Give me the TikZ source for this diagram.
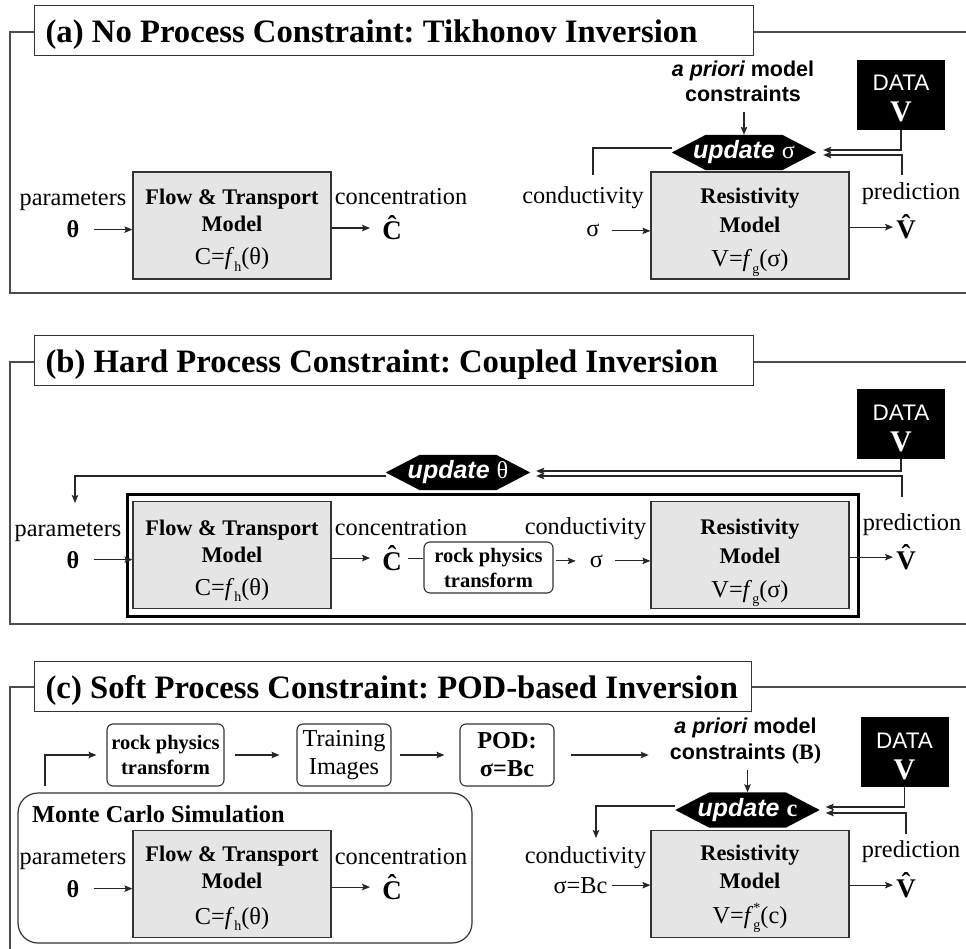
\documentclass[tikz,border=0pt]{standalone}
\usepackage{fontspec}
\setmainfont{Liberation Serif}
\newfontfamily\arialf{Liberation Sans}
\usetikzlibrary{arrows.meta,calc,backgrounds}
\frenchspacing
\newsavebox\hatsave
\newcommand\hatbf[1]{\sbox\hatsave{\bfseries #1}\makebox[0pt][l]{\makebox[\wd\hatsave]{\raisebox{.19em}{\bfseries\char"02C6}}}\usebox\hatsave}
\newcommand\sbsc[1]{\raisebox{-.28em}{\fontsize{14}{16}\selectfont #1}}
\newcommand\titlef{\fontsize{32.7}{36}\selectfont\bfseries}
\newcommand\lblf{\fontsize{24.3}{28}\selectfont}
\newcommand\btf{\fontsize{22.3}{26}\selectfont\bfseries}
\newcommand\hatf{\fontsize{27}{30}\selectfont}
\newcommand\apf{\arialf\fontsize{21.5}{26}\selectfont\bfseries}
\newcommand\updf{\arialf\fontsize{25}{28}\selectfont\bfseries\itshape}
\newcommand\rkf{\fontsize{20.5}{25}\selectfont\bfseries}
\newcommand\dataf{\arialf\fontsize{22.5}{26}\selectfont}
\newcommand\dvf{\fontsize{30}{32}\selectfont\bfseries}
\newcommand\hexfill[1]{\fill[black] (#1.west) -- ($(#1.north west)+(34,0)$) -- ($(#1.north east)+(-34,0)$) -- (#1.east) -- ($(#1.south east)+(-34,0)$) -- ($(#1.south west)+(34,0)$) -- cycle;}
\begin{document}
\begin{tikzpicture}[x=1pt,y=-1pt,
 frame/.style={draw=black!70,line width=1.3pt},
 ttl/.style={draw=black!80,fill=white,line width=1.2pt,anchor=north west,minimum height=50pt,inner xsep=11pt,inner ysep=0pt,text height=24pt,text depth=0pt,font=\titlef},
 mbox/.style={draw=black!80,fill=black!10,line width=1.2pt,minimum width=198pt,minimum height=107pt,inner sep=0pt},
 lbl/.style={inner sep=0pt,anchor=base,font=\lblf},
 bt/.style={inner sep=0pt,anchor=base,font=\btf},
 hatl/.style={inner sep=0pt,anchor=base,font=\hatf},
 apl/.style={inner sep=0pt,anchor=base,font=\apf},
 rbox/.style={draw=black!80,fill=white,rounded corners=6pt,line width=1.1pt,inner sep=0pt,align=center},
 datab/.style={fill=black,minimum width=88pt,minimum height=70pt,inner sep=0pt},
 dtxt/.style={inner sep=0pt,anchor=base,text=white},
 hexn/.style={minimum width=144pt,minimum height=35pt,inner sep=0pt,text=white,text height=12pt,text depth=0pt},
 arr/.style={draw=black!85,line width=1.1pt,-{Stealth[length=8pt,width=6.5pt,inset=1.5pt]}},
 ln/.style={draw=black!85,line width=1.1pt},
]
\useasboundingbox (0,0) rectangle (966,949);

% ================= (a)
\draw[frame] (34,32) -- (10,32) -- (10,293) -- (966,293);
\draw[frame] (753,32) -- (966,32);
\node[ttl] (ta) at (34,5) {\makebox[697pt][l]{(a) No Process Constraint: Tikhonov Inversion}};

\node[mbox] (fta) at (232,225.5) {};
\node[bt] (fta1) at (232,205) {Flow \& Transport};
\node[bt] (fta2) at (232,232) {Model};
\node[lbl] (fta3) at (232,265) {C=\textit{f}\sbsc{h}(θ)};
\node[lbl] (paa) at (73,206) {parameters};
\node[lbl,font=\lblf\bfseries] (tha) at (73,238) {θ};
\node[lbl] (coa) at (401,205) {concentration};
\node[hatl] (cha) at (392,240) {\hatbf{C}};
\draw[arr,shorten <=14pt] (tha.east) -- (tha.east -| fta.west);
\draw[arr,shorten >=12pt] (cha.west -| fta.east) -- (cha.west);

\node[mbox] (rsa) at (750,225.5) {};
\node[bt] (rsa1) at (750,204) {Resistivity};
\node[bt] (rsa2) at (750,233) {Model};
\node[lbl] (rsa3) at (750,267) {V=\textit{f}\sbsc{g}(σ)};
\node[lbl] (cda) at (583,204) {conductivity};
\node[lbl] (sga) at (593,237) {σ};
\node[lbl] (pra) at (911,200) {prediction};
\node[hatl] (vha) at (906,239) {\hatbf{V}};
\draw[arr,shorten <=12pt] (sga.east) -- (sga.east -| rsa.west);
\draw[arr,shorten >=3pt] (vha.west -| rsa.east) -- (vha.west);

\node[apl] (apa1) at (743,77) {\itshape a priori\upshape\ model};
\node[apl] (apa2) at (743,102) {constraints};
\node[hexn] (hxa) at (744,152.5) {\updf update \normalfont\lblf σ};
\draw[arr,shorten <=10pt] (apa2.south -| hxa.north) -- (hxa.north);

\node[datab] (dta) at (901,95) {};
\node[dtxt,font=\dataf] (dta1) at (901,91) {DATA};
\node[dtxt,font=\dvf] (dta2) at (901,122) {V};
\coordinate (pta) at (902,175);
\coordinate (cta) at (593,175);
\draw[arr] (dta.south) |- ([xshift=7pt,yshift=2.5pt]hxa.east);
\draw[arr] (pta) |- ([xshift=7pt,yshift=-2.5pt]hxa.east);
\draw[ln] ([yshift=4.5pt]hxa.west) -| (cta);

% ================= (b)
\draw[frame] (34,362) -- (10,362) -- (10,624) -- (966,624);
\draw[frame] (753,362) -- (966,362);
\node[ttl] (tb) at (34,335) {\makebox[697pt][l]{(b) Hard Process Constraint: Coupled Inversion}};
\node[draw=black,line width=3.2pt,minimum width=731pt,minimum height=122pt,inner sep=0pt] (cpl) at (493,555.5) {};

\node[mbox] (ftb) at (232,555) {};
\node[bt] (ftb1) at (232,535) {Flow \& Transport};
\node[bt] (ftb2) at (232,562) {Model};
\node[lbl] (ftb3) at (232,595) {C=\textit{f}\sbsc{h}(θ)};
\node[lbl] (pab) at (68,536) {parameters};
\node[lbl,font=\lblf\bfseries] (thb) at (73,568) {θ};
\node[lbl] (cob) at (401,535) {concentration};
\node[hatl] (chb) at (392,570) {\hatbf{C}};
\draw[arr,shorten <=14pt] (thb.east) -- (thb.east -| ftb.west);
\draw[arr,shorten >=12pt] (chb.west -| ftb.east) -- (chb.west);

\node[rbox,font=\rkf,minimum width=129pt,minimum height=51pt] (rkb) at (488.5,567.5) {rock physics\\transform};
\draw[ln,shorten <=6pt] (chb.east) -- (chb.east -| rkb.west);

\node[mbox] (rsb) at (750,555) {};
\node[bt] (rsb1) at (750,534) {Resistivity};
\node[bt] (rsb2) at (750,563) {Model};
\node[lbl] (rsb3) at (750,597) {V=\textit{f}\sbsc{g}(σ)};
\node[lbl] (cdb) at (585.5,534) {conductivity};
\node[lbl] (sgb) at (596.5,567) {σ};
\node[lbl] (prb) at (912,530) {prediction};
\node[hatl] (vhb) at (906,569) {\hatbf{V}};
\draw[arr,shorten <=2pt,shorten >=14pt] (sgb.west -| rkb.east) -- (sgb.west);
\draw[arr,shorten <=12pt] (sgb.east) -- (sgb.east -| rsb.west);
\draw[arr,shorten >=3pt] (vhb.west -| rsb.east) -- (vhb.west);

\node[hexn] (hxb) at (458,472.5) {\updf update \normalfont\lblf θ};
\node[datab] (dtb) at (901,424) {};
\node[dtxt,font=\dataf] (dtb1) at (901,420) {DATA};
\node[dtxt,font=\dvf] (dtb2) at (901,451) {V};
\coordinate (ptb) at (902,497);
\coordinate (pbt) at (75,503);
\draw[arr] (dtb.south) |- ([xshift=6pt,yshift=1.5pt]hxb.east);
\draw[arr] (ptb) |- ([xshift=6pt,yshift=-3.5pt]hxb.east);
\draw[arr] ([yshift=-3.5pt]hxb.west) -| (pbt);

% ================= (c)
\draw[frame] (34,687) -- (10,687) -- (10,949);
\draw[frame] (751,687) -- (966,687);
\node[ttl] (tc) at (34,661) {\makebox[695pt][l]{(c) Soft Process Constraint: POD-based Inversion}};

\node[draw=black!80,line width=1.2pt,rounded corners=20pt,minimum width=454pt,minimum height=150pt,inner sep=0pt] (mc) at (245,868) {};
\node[anchor=base west,inner sep=0pt,font=\fontsize{24.3}{28}\selectfont\bfseries] (mct) at (32,822) {Monte Carlo Simulation};

\node[rbox,font=\rkf,minimum width=117pt,minimum height=62pt] (rkc) at (165.5,755) {rock physics\\transform};
\node[rbox,font=\lblf,minimum width=94pt,minimum height=62pt] (trc) at (344,755) {Training\\Images};
\node[rbox,font=\lblf\bfseries,minimum width=94pt,minimum height=62pt] (pdc) at (507,755) {POD:\\σ=Bc};
\coordinate (mcs) at (45,786);
\draw[arr,shorten >=10pt] (mcs) |- (rkc.west);
\draw[arr,shorten <=10pt,shorten >=17pt] (rkc.east) -- (trc.west);
\draw[arr,shorten <=8pt,shorten >=15pt] (trc.east) -- (pdc.west);

\node[apl] (apc1) at (745.5,733) {\itshape a priori\upshape\ model};
\node[apl] (apc2) at (745.5,759) {constraints \normalfont\fontsize{22}{26}\selectfont\bfseries(B)};
\draw[arr,shorten <=16pt,shorten >=21pt] (pdc.east) -- (pdc.east -| apc2.west);
\node[hexn] (hxc) at (747.5,810) {\updf update \normalfont\lblf\bfseries c};
\draw[arr,shorten <=6.5pt] (apc2.south -| hxc.north) -- (hxc.north);

\node[datab] (dtc) at (904.5,752) {};
\node[dtxt,font=\dataf] (dtc1) at (904.5,748) {DATA};
\node[dtxt,font=\dvf] (dtc2) at (904.5,779) {V};
\coordinate (ptc) at (906,834);
\coordinate (ctc) at (596,838);
\draw[arr] (dtc.south) |- ([xshift=6pt,yshift=3pt]hxc.east);
\draw[arr] (ptc) |- ([xshift=6pt,yshift=-3pt]hxc.east);
\draw[arr] ([yshift=4pt]hxc.west) -| (ctc);

\node[mbox] (ftc) at (232,884) {};
\node[bt] (ftc1) at (232,861) {Flow \& Transport};
\node[bt] (ftc2) at (232,888) {Model};
\node[lbl] (ftc3) at (232,924) {C=\textit{f}\sbsc{h}(θ)};
\node[lbl] (pac) at (73,864) {parameters};
\node[lbl,font=\lblf\bfseries] (thc) at (73,897) {θ};
\node[lbl] (coc) at (401,864) {concentration};
\node[hatl] (chc) at (392,899) {\hatbf{C}};
\draw[arr,shorten <=14pt] (thc.east) -- (thc.east -| ftc.west);
\draw[arr,shorten >=12pt] (chc.west -| ftc.east) -- (chc.west);

\node[mbox] (rsc) at (750,884) {};
\node[bt] (rsc1) at (750,860) {Resistivity};
\node[bt] (rsc2) at (750,888) {Model};
\node[lbl] (rsc3) at (750,923) {V=\textit{f}\makebox[0pt][l]{\sbsc{g}}\raisebox{.45em}{\fontsize{14}{16}\selectfont *}(c)};
\node[lbl] (cdc) at (585.5,863) {conductivity};
\node[lbl] (sbc) at (580.5,893) {σ=Bc};
\node[lbl] (prc) at (911,857) {prediction};
\node[hatl] (vhc) at (906,897) {\hatbf{V}};
\draw[arr,shorten <=4pt] (sbc.east) -- (sbc.east -| rsc.west);
\draw[arr,shorten >=3pt] (vhc.west -| rsc.east) -- (vhc.west);

% background and hexagons
\begin{scope}[on background layer]
\fill[white] (0,0) rectangle (966,949);
\hexfill{hxa}
\hexfill{hxb}
\hexfill{hxc}
\end{scope}
\end{tikzpicture}
\end{document}
